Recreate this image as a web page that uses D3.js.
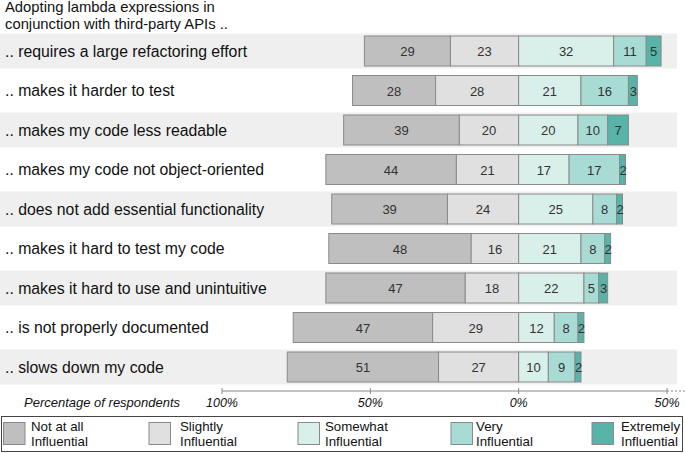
<!DOCTYPE html>
<html><head><meta charset="utf-8">
<script src="https://cdn.jsdelivr.net/npm/d3@7"></script>
<style>body{margin:0;background:#fff}svg{display:block;font-family:"Liberation Sans",Arial,sans-serif}</style>
</head><body>
<svg id="c" width="685" height="453"></svg>
<script>
const titleLines = ["Adopting lambda expressions in", "conjunction with third-party APIs .."];
const categories = [
  ".. requires a large refactoring effort",
  ".. makes it harder to test",
  ".. makes my code less readable",
  ".. makes my code not object-oriented",
  ".. does not add essential functionality",
  ".. makes it hard to test my code",
  ".. makes it hard to use and unintuitive",
  ".. is not properly documented",
  ".. slows down my code"
];
const levels = ["Not at all Influential", "Slightly Influential", "Somewhat Influential", "Very Influential", "Extremely Influential"];
const notAtAll   = [29, 28, 39, 44, 39, 48, 47, 47, 51];
const slightly   = [23, 28, 20, 21, 24, 16, 18, 29, 27];
const somewhat   = [32, 21, 20, 17, 25, 21, 22, 12, 10];
const very       = [11, 16, 10, 17, 8, 8, 5, 8, 9];
const extremely  = [5, 3, 7, 2, 2, 2, 3, 2, 2];
const tickValues = [-100, -50, 0, 50];
const tickLabels = ["100%", "50%", "0%", "50%"];
const axisTitle = "Percentage of respondents";
const colors = ["#bfbfbf", "#e0e0e0", "#d8efea", "#a9dbd5", "#58b3a8"];

const series = [notAtAll, slightly, somewhat, very, extremely];
const svg = d3.select("#c");
const x = d3.scaleLinear().domain([-100, 50]).range([222, 667]);
const y = d3.scaleBand().domain(categories).range([31.25, 386.75]);

// title
svg.append("text").attr("font-size", 14.8).attr("fill", "#111")
  .selectAll("tspan").data(titleLines).join("tspan").attr("x", 5).attr("y", (d, i) => i ? 28.8 : 12.2).text(d => d);

// row backgrounds
svg.append("g").selectAll("rect").data(categories.filter((d, i) => i % 2 === 0)).join("rect")
  .attr("x", 0).attr("width", 677).attr("y", d => y(d) + y.bandwidth() / 2 - 17.5).attr("height", 35)
  .attr("fill", "#efefef");

// row labels
svg.append("g").selectAll("text").data(categories).join("text")
  .attr("x", 5).attr("y", d => y(d) + y.bandwidth() / 2).attr("dy", "0.36em")
  .attr("font-size", 15.8).attr("fill", "#111").text(d => d);

// segments
const segs = [];
categories.forEach((c, i) => {
  let left = -(notAtAll[i] + slightly[i]);
  [0, 1].forEach(k => { segs.push({c, k, x0: left, x1: left + series[k][i], v: series[k][i]}); left += series[k][i]; });
  let right = 0;
  [2, 3, 4].forEach(k => { segs.push({c, k, x0: right, x1: right + series[k][i], v: series[k][i]}); right += series[k][i]; });
});
const g = svg.append("g");
g.selectAll("rect").data(segs).join("rect")
  .attr("x", d => x(d.x0)).attr("width", d => x(d.x1) - x(d.x0))
  .attr("y", d => y(d.c) + y.bandwidth() / 2 - 15).attr("height", 30)
  .attr("fill", d => colors[d.k]).attr("stroke", "#8a8a8a").attr("stroke-width", 1);
g.selectAll("text").data(segs).join("text")
  .attr("x", d => (x(d.x0) + x(d.x1)) / 2 + (d.v < 4 ? 0.5 : 0)).attr("y", d => y(d.c) + y.bandwidth() / 2 + 0.5).attr("dy", "0.36em")
  .attr("text-anchor", "middle").attr("font-size", 13).attr("fill", "#333").text(d => d.v);

// axis
const ax = svg.append("g").attr("transform", "translate(0,391)");
ax.append("line").attr("x1", x(-100)).attr("x2", x(50)).attr("stroke", "#888");
ax.append("line").attr("x1", x(50)).attr("x2", 685).attr("stroke", "#888").attr("stroke-dasharray", "2,2");
ax.selectAll("line.t").data(tickValues).join("line").attr("class", "t")
  .attr("x1", d => x(d)).attr("x2", d => x(d)).attr("y1", -3).attr("y2", 3).attr("stroke", "#888");
ax.selectAll("text").data(tickValues).join("text")
  .attr("x", d => x(d)).attr("y", 16).attr("text-anchor", "middle").attr("font-size", 12.5)
  .attr("font-style", "italic").attr("fill", "#111").text((d, i) => tickLabels[i]);
svg.append("text").attr("x", 24).attr("y", 407).attr("font-size", 13).attr("font-style", "italic")
  .attr("fill", "#111").text(axisTitle);

// legend
svg.append("rect").attr("x", 1.5).attr("y", 416.5).attr("width", 681).attr("height", 35)
  .attr("fill", "none").attr("stroke", "#444").attr("stroke-width", 1);
const legX = [3.5, 149, 298, 451, 592];
const legTX = [31, 180, 325, 476, 621];
const lg = svg.append("g");
levels.forEach((l, i) => {
  lg.append("rect").attr("x", legX[i]).attr("y", 422.5).attr("width", 21.5).attr("height", 22)
    .attr("fill", colors[i]).attr("stroke", "#8a8a8a");
  const words = l.split(" ");
  const line1 = words.slice(0, -1).join(" "), line2 = words[words.length - 1];
  const t = lg.append("text").attr("font-size", 13.3).attr("fill", "#111");
  t.append("tspan").attr("x", legTX[i]).attr("y", 431).text(line1);
  t.append("tspan").attr("x", legTX[i]).attr("y", 445.5).text(line2);
});
</script>
</body></html>
